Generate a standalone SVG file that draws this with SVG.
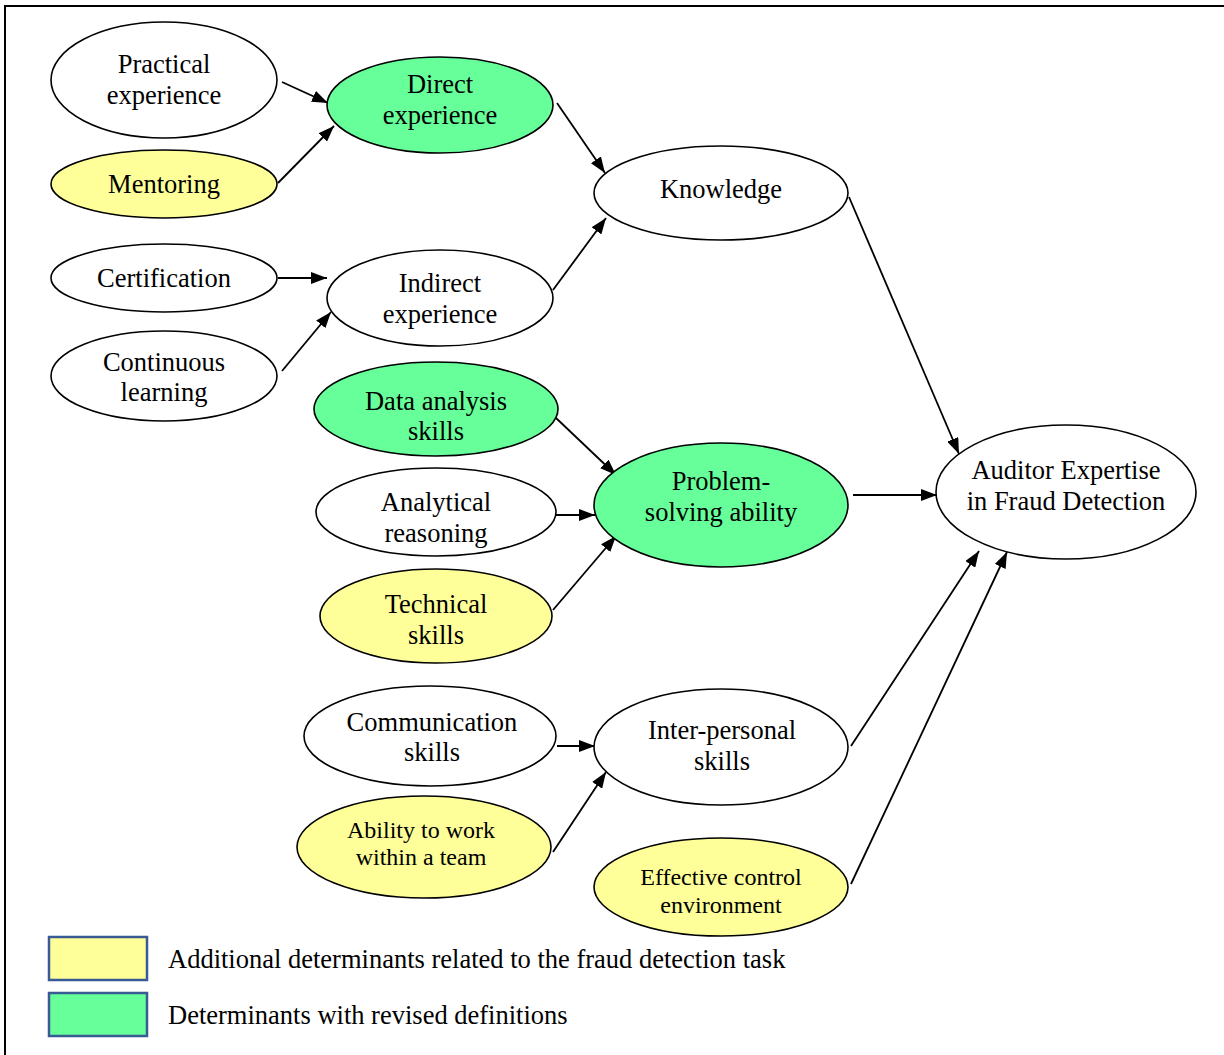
<svg xmlns="http://www.w3.org/2000/svg" width="1224" height="1055" viewBox="0 0 1224 1055" font-family="'Liberation Serif', serif">
<defs>
<marker id="ah" markerWidth="16" markerHeight="12" refX="16" refY="6" orient="auto" markerUnits="userSpaceOnUse">
<path d="M0,0 L16,6 L0,12 Z" fill="#000"/>
</marker>
<style>
.n{stroke:#000;stroke-width:1.6}
.w{fill:#fff}
.y{fill:#ffff99}
.g{fill:#66ff99}
text{font-family:'Liberation Serif','Times New Roman',serif;font-size:26.5px;fill:#000;text-anchor:middle}
.s{font-size:24px}
.c line{stroke:#000;stroke-width:1.8;marker-end:url(#ah)}
.lg{stroke:#3a5a96;stroke-width:2.5}
.lt{text-anchor:start}
</style>
</defs>
<rect width="1224" height="1055" fill="#fff"/>
<rect x="5" y="6" width="1240" height="1100" fill="none" stroke="#000" stroke-width="2"/>

<g id="connectors" class="c">
<line x1="282" y1="82" x2="328" y2="103"/>
<line x1="278" y1="183" x2="334" y2="126"/>
<line x1="557" y1="103" x2="605" y2="173"/>
<line x1="553" y1="290" x2="606" y2="218"/>
<line x1="278" y1="278" x2="327" y2="278"/>
<line x1="282" y1="371" x2="331" y2="312"/>
<line x1="849" y1="197" x2="959" y2="454"/>
<line x1="556" y1="418" x2="616" y2="475"/>
<line x1="556" y1="515" x2="595" y2="515"/>
<line x1="553" y1="610" x2="616" y2="536"/>
<line x1="853" y1="495" x2="937" y2="495"/>
<line x1="557" y1="746" x2="595" y2="746"/>
<line x1="553" y1="852" x2="606" y2="772"/>
<line x1="851" y1="746" x2="979" y2="551"/>
<line x1="851" y1="884" x2="1007" y2="552"/>
</g>

<g id="practical"><ellipse class="n w" cx="164" cy="80" rx="113" ry="58"/><text x="164" y="73">Practical</text><text x="164" y="104">experience</text></g>
<g id="mentoring"><ellipse class="n y" cx="164" cy="184" rx="113" ry="34"/><text x="164" y="193">Mentoring</text></g>
<g id="direct"><ellipse class="n g" cx="440" cy="105" rx="113" ry="48"/><text x="440" y="93">Direct</text><text x="440" y="124">experience</text></g>
<g id="knowledge"><ellipse class="n w" cx="721" cy="193" rx="127" ry="47"/><text x="721" y="198">Knowledge</text></g>
<g id="certification"><ellipse class="n w" cx="164" cy="278" rx="113" ry="34"/><text x="164" y="287">Certification</text></g>
<g id="indirect"><ellipse class="n w" cx="440" cy="298" rx="113" ry="48"/><text x="440" y="292">Indirect</text><text x="440" y="323">experience</text></g>
<g id="continuous"><ellipse class="n w" cx="164" cy="376" rx="113" ry="45"/><text x="164" y="371">Continuous</text><text x="164" y="401">learning</text></g>
<g id="dataanalysis"><ellipse class="n g" cx="436" cy="409" rx="122" ry="47"/><text x="436" y="410">Data analysis</text><text x="436" y="440">skills</text></g>
<g id="analytical"><ellipse class="n w" cx="436" cy="512" rx="120" ry="44"/><text x="436" y="511">Analytical</text><text x="436" y="542">reasoning</text></g>
<g id="problem"><ellipse class="n g" cx="721" cy="505" rx="127" ry="62"/><text x="721" y="490">Problem-</text><text x="721" y="521">solving ability</text></g>
<g id="auditor"><ellipse class="n w" cx="1066" cy="492" rx="130" ry="67"/><text x="1066" y="479">Auditor Expertise</text><text x="1066" y="510">in Fraud Detection</text></g>
<g id="technical"><ellipse class="n y" cx="436" cy="616" rx="116" ry="47"/><text x="436" y="613">Technical</text><text x="436" y="644">skills</text></g>
<g id="communication"><ellipse class="n w" cx="430" cy="736" rx="126" ry="50"/><text x="432" y="731">Communication</text><text x="432" y="761">skills</text></g>
<g id="interpersonal"><ellipse class="n w" cx="721" cy="747" rx="127" ry="58"/><text x="722" y="739">Inter-personal</text><text x="722" y="770">skills</text></g>
<g id="ability"><ellipse class="n y" cx="424" cy="847" rx="127" ry="51"/><text class="s" x="421" y="838">Ability to work</text><text class="s" x="421" y="865">within a team</text></g>
<g id="effective"><ellipse class="n y" cx="721" cy="887" rx="127" ry="49"/><text class="s" x="721" y="885">Effective control</text><text class="s" x="721" y="913">environment</text></g>

<g id="legend">
<rect class="lg" x="49" y="937" width="98" height="43" fill="#ffff99"/>
<text class="lt" x="168" y="968">Additional determinants related to the fraud detection task</text>
<rect class="lg" x="49" y="993" width="98" height="43" fill="#66ff99"/>
<text class="lt" x="168" y="1024">Determinants with revised definitions</text>
</g>
</svg>
